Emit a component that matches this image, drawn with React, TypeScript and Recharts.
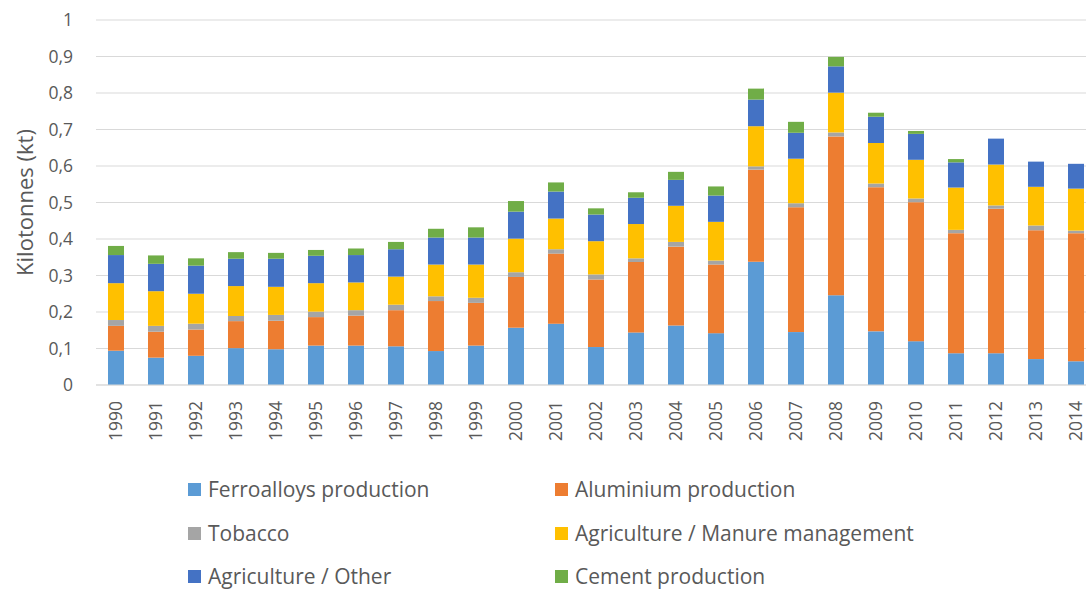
import React from 'react';
import { BarChart, Bar, XAxis, YAxis, CartesianGrid, Legend, Label } from 'recharts';

// Annual emissions by source, kilotonnes
const years = [
  '1990', '1991', '1992', '1993', '1994', '1995', '1996', '1997', '1998', '1999',
  '2000', '2001', '2002', '2003', '2004', '2005', '2006', '2007', '2008', '2009',
  '2010', '2011', '2012', '2013', '2014',
];

const ferroalloys = [
  0.094, 0.075, 0.080, 0.101, 0.098, 0.108, 0.108, 0.106, 0.093, 0.108,
  0.157, 0.168, 0.104, 0.144, 0.163, 0.142, 0.338, 0.145, 0.246, 0.147,
  0.120, 0.087, 0.087, 0.071, 0.065,
];
const aluminium = [
  0.068, 0.071, 0.072, 0.074, 0.078, 0.078, 0.082, 0.099, 0.137, 0.117,
  0.139, 0.192, 0.185, 0.193, 0.216, 0.188, 0.252, 0.342, 0.435, 0.395,
  0.381, 0.329, 0.396, 0.353, 0.351,
];
const tobacco = [
  0.016, 0.016, 0.016, 0.014, 0.016, 0.015, 0.015, 0.015, 0.013, 0.014,
  0.013, 0.012, 0.014, 0.010, 0.013, 0.011, 0.009, 0.011, 0.011, 0.010,
  0.010, 0.009, 0.009, 0.013, 0.007,
];
const manure = [
  0.101, 0.095, 0.082, 0.082, 0.077, 0.078, 0.076, 0.077, 0.087, 0.091,
  0.092, 0.084, 0.091, 0.094, 0.099, 0.106, 0.110, 0.122, 0.109, 0.111,
  0.106, 0.116, 0.112, 0.106, 0.115,
];
const agriOther = [
  0.077, 0.075, 0.077, 0.075, 0.077, 0.075, 0.075, 0.075, 0.074, 0.074,
  0.074, 0.074, 0.073, 0.072, 0.071, 0.072, 0.073, 0.071, 0.072, 0.072,
  0.071, 0.069, 0.071, 0.069, 0.068,
];
const cement = [
  0.025, 0.023, 0.020, 0.018, 0.016, 0.016, 0.018, 0.020, 0.024, 0.028,
  0.029, 0.025, 0.017, 0.015, 0.022, 0.025, 0.030, 0.030, 0.026, 0.011,
  0.008, 0.009, 0.000, 0.000, 0.000,
];

const yTicks = [0, 0.1, 0.2, 0.3, 0.4, 0.5, 0.6, 0.7, 0.8, 0.9, 1];

const series = [
  { key: 'ferroalloys', name: 'Ferroalloys production', color: '#5B9BD5', values: ferroalloys },
  { key: 'aluminium', name: 'Aluminium production', color: '#ED7D31', values: aluminium },
  { key: 'tobacco', name: 'Tobacco', color: '#A5A5A5', values: tobacco },
  { key: 'manure', name: 'Agriculture / Manure management', color: '#FFC000', values: manure },
  { key: 'agriOther', name: 'Agriculture / Other', color: '#4472C4', values: agriOther },
  { key: 'cement', name: 'Cement production', color: '#70AD47', values: cement },
];

const data = years.map((year, i) => {
  const row: Record<string, string | number> = { year };
  series.forEach((s) => {
    row[s.key] = s.values[i];
  });
  return row;
});

const FONT = '"Open Sans", sans-serif';
const TEXT = '#595959';

const YearTick = (props: any) => {
  const { x, y, payload } = props;
  const ay = y + 8;
  return (
    <text
      x={x}
      y={ay}
      transform={`rotate(-90, ${x}, ${ay})`}
      textAnchor="end"
      dy="0.35em"
      fill={TEXT}
      fontSize={17.5}
      fontFamily={FONT}
    >
      {payload.value}
    </text>
  );
};

const AxisTitle = (props: any) => {
  const vb = props.viewBox || { y: 20, height: 365 };
  const cy = vb.y + vb.height / 2;
  return (
    <text
      x={24}
      y={cy}
      transform={`rotate(-90, 24, ${cy})`}
      textAnchor="middle"
      dominantBaseline="central"
      fill={TEXT}
      fontSize={22}
      fontFamily={FONT}
    >
      Kilotonnes (kt)
    </text>
  );
};

const legendCols = [188, 555];
const legendRows = [489, 533, 576];

const LegendContent = () => (
  <div style={{ position: 'relative', width: 1100, height: 145 }}>
    {series.map((s, i) => {
      const col = i % 2;
      const row = Math.floor(i / 2);
      return (
        <div
          key={s.key}
          style={{
            position: 'absolute',
            left: legendCols[col],
            top: legendRows[row] - 445 - 10,
            height: 20,
            display: 'flex',
            alignItems: 'center',
            whiteSpace: 'nowrap',
          }}
        >
          <span style={{ width: 13, height: 13, background: s.color, marginRight: 7, display: 'inline-block' }} />
          <span style={{ fontFamily: FONT, fontSize: 21, color: TEXT, lineHeight: '20px' }}>{s.name}</span>
        </div>
      );
    })}
  </div>
);

export default function App() {
  return (
    <div style={{ position: 'absolute', left: 0, top: 0, width: 1086, height: 590, overflow: 'hidden', background: '#fff' }}>
      <BarChart
        width={1100}
        height={590}
        data={data}
        margin={{ top: 20, right: 4, bottom: 0, left: 0 }}
        barCategoryGap="30%"
      >
        <CartesianGrid vertical={false} stroke="#D9D9D9" strokeWidth={1} />
        <XAxis
          dataKey="year"
          height={60}
          tickLine={false}
          axisLine={{ stroke: '#D9D9D9' }}
          interval={0}
          tick={<YearTick />}
        />
        <YAxis
          width={96}
          domain={[0, 1]}
          ticks={yTicks}
          tickLine={false}
          axisLine={false}
          tickSize={0}
          tickMargin={23}
          tick={{ fill: TEXT, fontSize: 17.5, fontFamily: FONT }}
          tickFormatter={(v: number) => String(v).replace('.', ',')}
          label={<Label content={<AxisTitle />} />}
        />
        <Legend
          verticalAlign="bottom"
          height={145}
          wrapperStyle={{ left: 0, top: 445, width: 1100 }}
          content={<LegendContent />}
        />
        {series.map((s) => (
          <Bar
            key={s.key}
            dataKey={s.key}
            name={s.name}
            stackId="total"
            fill={s.color}
            isAnimationActive={false}
          />
        ))}
      </BarChart>
    </div>
  );
}
